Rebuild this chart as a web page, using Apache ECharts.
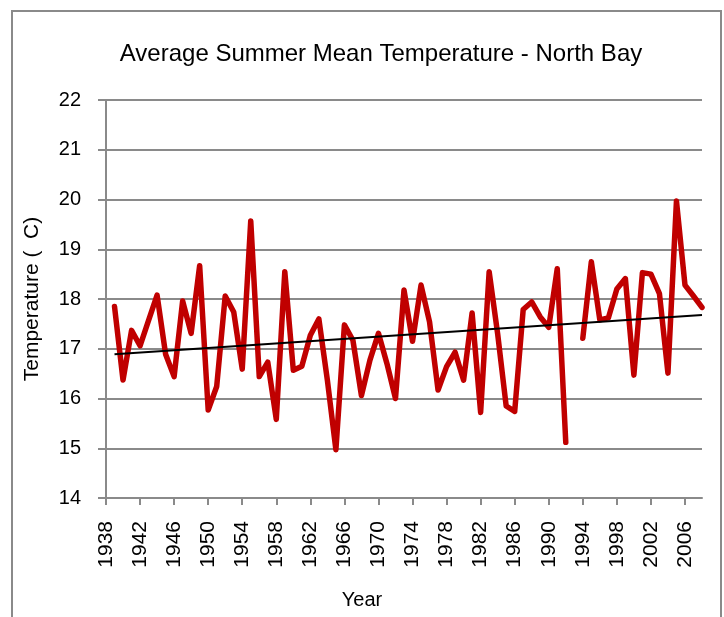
<!DOCTYPE html>
<html lang="en">
<head>
    <meta charset="UTF-8">
    <title>Average Summer Mean Temperature - North Bay</title>
    <style>
        html, body { margin: 0; padding: 0; background: #fff; }
        #chart { width: 724px; height: 617px; }
    </style>
</head>
<body>
    <div id="chart"></div>
    <script src="https://cdn.jsdelivr.net/npm/echarts@6/dist/echarts.min.js"></script>
    <script>
        // years on the category axis (1938 and 1993 have no reading)
        let years = [];
        for (let y = 1938; y <= 2008; y++) years.push(String(y));

        let temps = [
            null, 17.85, 16.37, 17.37, 17.06, 17.57, 18.08, 16.89, 16.44, 17.96,
            17.31, 18.67, 15.77, 16.24, 18.06, 17.74, 16.59, 19.57, 16.44, 16.73,
            15.58, 18.55, 16.57, 16.65, 17.27, 17.60, 16.37, 14.97, 17.48, 17.17,
            16.06, 16.77, 17.31, 16.70, 16.00, 18.18, 17.15, 18.28, 17.54, 16.17,
            16.64, 16.93, 16.37, 17.72, 15.72, 18.55, 17.30, 15.85, 15.74, 17.79,
            17.94, 17.64, 17.43, 18.61, 15.12, null, 17.21, 18.75, 17.58, 17.62,
            18.20, 18.41, 16.47, 18.53, 18.50, 18.11, 16.51, 19.97, 18.28, 18.06,
            17.83
        ];

        // linear trend, read at its two ends
        let trendYears  = ['1939', '2008'];
        let trendValues = [16.89, 17.68];

        let yTicks = [14, 15, 16, 17, 18, 19, 20, 21, 22];

        let trend = years.map(function(y) {
            let i = trendYears.indexOf(y);
            return i >= 0 ? trendValues[i] : null;
        });

        let font = 'Liberation Sans';
        let myChart = echarts.init(document.getElementById('chart'));

        let chartOption = {
            animation: false,
            grid: { left: 106, top: 100, right: 22, bottom: 119 },
            graphic: [
                {
                    type: 'rect',
                    shape: { x: 12, y: 11, width: 709, height: 640 },
                    style: { fill: null, stroke: '#8a8a8a', lineWidth: 2 },
                    silent: true
                },
                {
                    type: 'text',
                    x: 381, y: 54,
                    style: {
                        text: 'Average Summer Mean Temperature - North Bay',
                        fill: '#000', font: '24px "' + font + '"',
                        textAlign: 'center', textVerticalAlign: 'middle'
                    }
                }
            ],
            xAxis: {
                type: 'category',
                data: years,
                boundaryGap: false,
                name: 'Year',
                nameLocation: 'middle',
                nameGap: 92,
                nameTextStyle: {
                    fontFamily: font, fontSize: 20, color: '#000',
                    padding: [0, 84, 0, 0]
                },
                axisLine: { lineStyle: { color: '#8a8a8a', width: 2 } },
                axisTick: { interval: 3, length: 7, lineStyle: { color: '#8a8a8a', width: 2 } },
                axisLabel: {
                    interval: 3, rotate: 90, margin: 23,
                    fontFamily: font, fontSize: 21, color: '#000'
                },
                splitLine: { show: false }
            },
            yAxis: {
                type: 'value',
                min: yTicks[0],
                max: yTicks[yTicks.length - 1],
                interval: 1,
                name: 'Temperature (  C)',
                nameLocation: 'middle',
                nameGap: 63,
                nameTextStyle: { fontFamily: font, fontSize: 21, color: '#000' },
                axisLine: { show: true, lineStyle: { color: '#8a8a8a', width: 2 } },
                axisTick: { show: true, inside: false, length: 8, lineStyle: { color: '#8a8a8a', width: 2 } },
                axisLabel: { margin: 25, fontFamily: font, fontSize: 20, color: '#000' },
                splitLine: { lineStyle: { color: '#8a8a8a', width: 2 } }
            },
            series: [
                {
                    type: 'line',
                    data: temps,
                    showSymbol: false,
                    connectNulls: false,
                    lineStyle: { color: '#C00000', width: 5.5, join: 'round', cap: 'round' },
                    z: 2
                },
                {
                    type: 'line',
                    data: trend,
                    showSymbol: false,
                    connectNulls: true,
                    lineStyle: { color: '#000', width: 2 },
                    z: 3
                }
            ]
        };

        myChart.setOption(chartOption);
    </script>
</body>
</html>
